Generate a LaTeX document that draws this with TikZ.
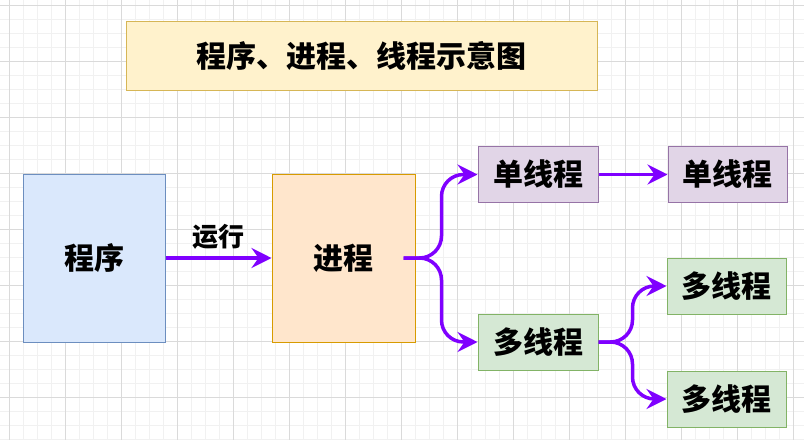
\documentclass[tikz,border=0pt]{standalone}
\usepackage{fontspec}
\setmainfont{Noto Sans CJK SC}
\usetikzlibrary{arrows.meta,positioning}

\definecolor{titlefill}{HTML}{FFF2CC}
\definecolor{titledraw}{HTML}{D6B656}
\definecolor{bluefill}{HTML}{DAE8FC}
\definecolor{bluedraw}{HTML}{6C8EBF}
\definecolor{orangefill}{HTML}{FFE6CC}
\definecolor{orangedraw}{HTML}{D79B00}
\definecolor{purplefill}{HTML}{E1D5E7}
\definecolor{purpledraw}{HTML}{9673A6}
\definecolor{greenfill}{HTML}{D5E8D4}
\definecolor{greendraw}{HTML}{82B366}
\definecolor{flowline}{HTML}{7F00FF}
\definecolor{gridminor}{HTML}{F1F1F1}
\definecolor{gridmajor}{HTML}{DADADA}

\begin{document}
\begin{tikzpicture}[x=1pt, y=-1pt, every node/.style={font=\bfseries\fontsize{30}{36}\selectfont}]
  \tikzset{block/.style={rectangle, line width=1pt, inner sep=0pt, align=center}, thread/.style={block, minimum width=120pt, minimum height=56pt}, arr/.style={-{Stealth[length=20pt, width=20pt, inset=7pt]}, line width=3.5pt, draw=flowline}}
  \clip (0,0) rectangle (804,440);
  \fill[white] (0,0) rectangle (804,440);
  % background grid
  \foreach \gx in {-5,9,...,803} \draw[gridminor, line width=1pt] (\gx,0) -- (\gx,440);
  \foreach \gy in {5,19,...,439} \draw[gridminor, line width=1pt] (0,\gy) -- (804,\gy);
  \foreach \gx in {9,65,...,803} \draw[gridmajor, line width=1pt] (\gx,0) -- (\gx,440);
  \foreach \gy in {5,61,...,439} \draw[gridmajor, line width=1pt] (0,\gy) -- (804,\gy);

  \node[block, draw=titledraw, fill=titlefill, minimum width=471pt, minimum height=69pt] (title) at (361.5,55.5) {程序、进程、线程示意图};
  \node[block, draw=bluedraw, fill=bluefill, minimum width=142pt, minimum height=168pt] (prog) at (94,258) {程序};
  \node[block, draw=orangedraw, fill=orangefill, minimum width=143pt, minimum height=168pt, right=106pt of prog] (proc) {进程};
  \node[thread, draw=purpledraw, fill=purplefill] (single) at (538,174.5) {单线程};
  \node[thread, draw=greendraw, fill=greenfill] (multi) at (538,342) {多线程};
  \node[thread, draw=purpledraw, fill=purplefill, minimum width=119pt, right=69pt of single] (singleb) {单线程};
  \node[thread, draw=greendraw, fill=greenfill, minimum width=119pt] (multia) at (726.5,286) {多线程};
  \node[thread, draw=greendraw, fill=greenfill, minimum width=119pt, below=56pt of multia] (multib) {多线程};

  \draw[arr] (prog) -- node[midway, yshift=21pt, font=\bfseries\fontsize{26}{30}\selectfont] (run) {运行} (proc);
  \draw[arr, rounded corners=22pt] ([xshift=-12pt]proc.east) -- ++(38,0) |- (single.west);
  \draw[arr, rounded corners=22pt] ([xshift=-12pt]proc.east) -- ++(38,0) |- (multi.west);
  \draw[arr] (single) -- (singleb);
  \draw[arr, rounded corners=22pt] (multi.east) -- ++(34,0) |- (multia.west);
  \draw[arr, rounded corners=22pt] (multi.east) -- ++(34,0) |- (multib.west);
\end{tikzpicture}
\end{document}
